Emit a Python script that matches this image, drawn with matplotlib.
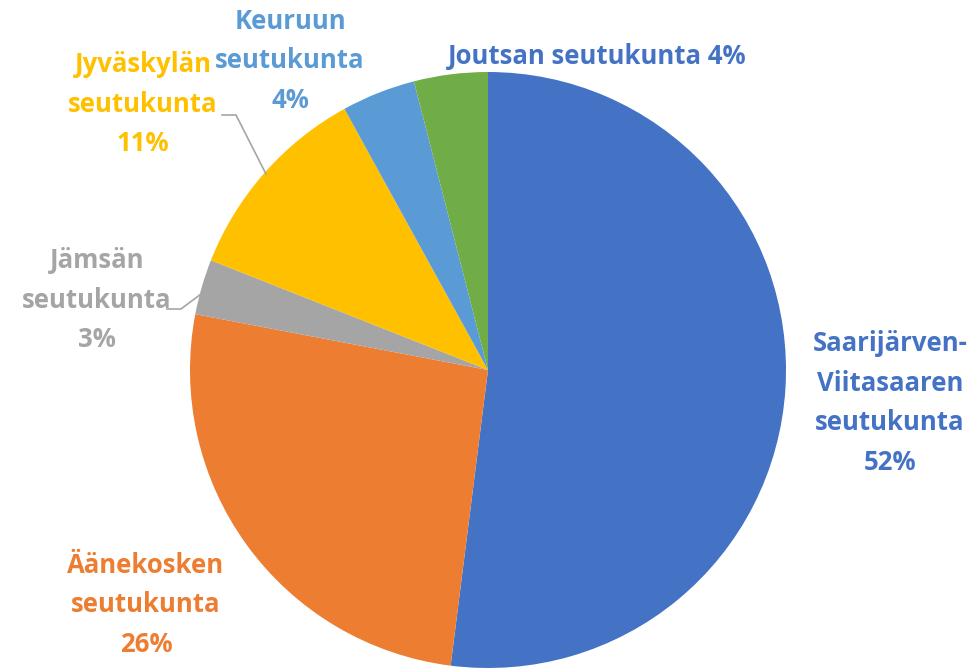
import matplotlib.pyplot as plt

# data
regions = ['Saarijärven-\nViitasaaren\nseutukunta', 'Äänekosken\nseutukunta', 'Jämsän\nseutukunta',
           'Jyväskylän\nseutukunta', 'Keuruun\nseutukunta', 'Joutsan seutukunta']
shares = [52, 26, 3, 11, 4, 4]
colors = ['#4472C4', '#ED7D31', '#A5A5A5', '#FFC000', '#5B9BD5', '#70AD47']
label_colors = ['#4472C4', '#ED7D31', '#A5A5A5', '#FFC000', '#5B9BD5', '#4472C4']

# pie centre / radius in pixels of the 973x670 picture
CX, CY, R = 488, 370, 298


def px(x, y):
    return (x - CX) / R, (CY - y) / R


fig = plt.figure(figsize=(9.73, 6.70), dpi=100)
ax = fig.add_axes([0, 0, 1, 1])
ax.pie(shares, colors=colors, startangle=90, counterclock=False, radius=1,
       wedgeprops=dict(linewidth=0))
ax.set_xlim((0 - CX) / R, (973 - CX) / R)
ax.set_ylim((CY - 670) / R, CY / R)
ax.set_aspect('equal')
ax.axis('off')

# label positions (pixel centres)
label_pos = [(890, 403), (146, 605), (97, 300), (143, 104), (290, 61), (597, 57)]
for name, val, col, (lx, ly) in zip(regions, shares, label_colors, label_pos):
    sep = ' ' if '\n' not in name else '\n'
    x, y = px(lx, ly)
    ax.text(x, y, f'{name}{sep}{val}%', color=col, fontsize=18.5, fontweight='bold',
            family='Open Sans', ha='center', va='center', linespacing=1.6)

# leader lines
for pts in [[(222, 115), (236, 115), (266, 174)], [(167, 309), (181, 309), (201, 294)]]:
    xs, ys = zip(*[px(a, b) for a, b in pts])
    ax.plot(xs, ys, color='#A5A5A5', lw=1.2)

fig.savefig('out.png', dpi=100)
